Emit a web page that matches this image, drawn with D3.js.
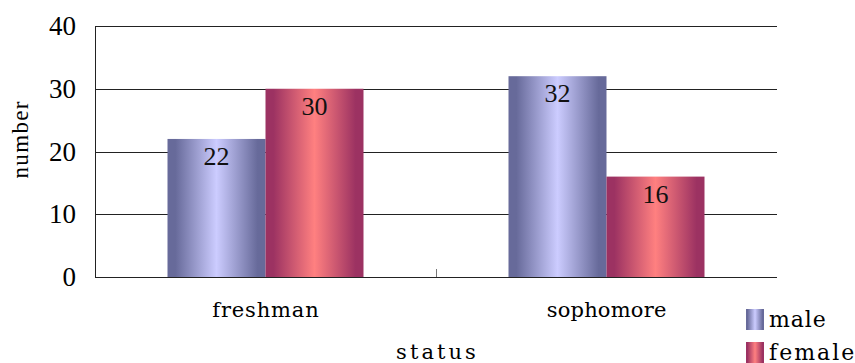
<!DOCTYPE html>
<html>
<head>
<meta charset="utf-8">
<script src="https://cdn.jsdelivr.net/npm/d3@7"></script>
<style>
  html, body { margin: 0; padding: 0; background: #fff; }
  svg { display: block; }
  .num { font-family: "Liberation Serif", "Times New Roman", serif; fill: #000; }
  .lbl { font-family: "DejaVu Serif", serif; fill: #000; }
</style>
</head>
<body>
<svg id="chart" width="855" height="363"></svg>
<script>
// Students by status and sex
const categories = ["freshman", "sophomore"];
const seriesNames = ["male", "female"];
const maleValues = [22, 32];
const femaleValues = [30, 16];
const yTicks = [0, 10, 20, 30, 40];

const svg = d3.select("#chart");
const margin = { left: 95, right: 78, top: 26, bottom: 86 };
const W = 855, H = 363;
const x0 = margin.left, x1 = W - margin.right;
const yTop = margin.top, yBot = H - margin.bottom;

const x = d3.scaleBand().domain(categories).range([x0, x1]);
const y = d3.scaleLinear().domain([0, 40]).range([yBot, yTop]);

// the pair of bars sits in the middle of each category band
const groupW = 196;
const sx = d3.scaleBand().domain(seriesNames)
  .range([(x.bandwidth() - groupW) / 2, (x.bandwidth() + groupW) / 2]);

const defs = svg.append("defs");
const palette = {
  male: { edge: "#676a9a", mid: "#ccccff" },
  female: { edge: "#9c3262", mid: "#ff8080" }
};
for (const k of seriesNames) {
  const g = defs.append("linearGradient").attr("id", "grad-" + k)
    .attr("x1", "0%").attr("x2", "100%").attr("y1", "0%").attr("y2", "0%");
  g.append("stop").attr("offset", "0%").attr("stop-color", palette[k].edge);
  g.append("stop").attr("offset", "8%").attr("stop-color", palette[k].edge);
  g.append("stop").attr("offset", "50%").attr("stop-color", palette[k].mid);
  g.append("stop").attr("offset", "92%").attr("stop-color", palette[k].edge);
  g.append("stop").attr("offset", "100%").attr("stop-color", palette[k].edge);
}

const crisp = v => Math.round(v) + 0.5;

// horizontal gridlines
svg.append("g").selectAll("line").data(yTicks.filter(d => d > 0)).join("line")
  .attr("x1", x0).attr("x2", x1)
  .attr("y1", d => crisp(y(d))).attr("y2", d => crisp(y(d)))
  .attr("stroke", "#222").attr("stroke-width", 1);

// y tick labels
svg.append("g").selectAll("text").data(yTicks).join("text")
  .attr("class", "num")
  .attr("x", 76).attr("y", d => y(d) + 9)
  .attr("text-anchor", "end")
  .style("font-size", "27px")
  .text(d => d);

// bars
const rows = categories.map((c, i) => ({ cat: c, values: [
  { key: "male", value: maleValues[i] },
  { key: "female", value: femaleValues[i] }
]}));

const groups = svg.append("g").selectAll("g").data(rows).join("g")
  .attr("transform", d => `translate(${x(d.cat)},0)`);

groups.selectAll("rect").data(d => d.values).join("rect")
  .attr("x", d => sx(d.key))
  .attr("width", sx.bandwidth())
  .attr("y", d => y(d.value))
  .attr("height", d => y(0) - y(d.value))
  .attr("fill", d => `url(#grad-${d.key})`);

groups.selectAll("text").data(d => d.values).join("text")
  .attr("class", "num")
  .attr("x", d => sx(d.key) + sx.bandwidth() / 2)
  .attr("y", d => y(d.value) + 26)
  .attr("text-anchor", "middle")
  .style("font-size", "26px")
  .style("fill", "#111")
  .text(d => d.value);

// axis lines
svg.append("line").attr("x1", crisp(x0)).attr("x2", crisp(x0))
  .attr("y1", crisp(yTop)).attr("y2", crisp(yBot))
  .attr("stroke", "#222");
svg.append("line").attr("x1", x0).attr("x2", x1)
  .attr("y1", crisp(yBot)).attr("y2", crisp(yBot))
  .attr("stroke", "#222");
svg.append("line").attr("x1", x0).attr("x2", x1)
  .attr("y1", crisp(yTop)).attr("y2", crisp(yTop))
  .attr("stroke", "#222");

// category separators
svg.append("g").selectAll("line").data(categories.slice(1)).join("line")
  .attr("x1", d => crisp(x(d))).attr("x2", d => crisp(x(d)))
  .attr("y1", yBot - 8).attr("y2", yBot)
  .attr("stroke", "#777");

// fixed-pitch spacing for the word labels
const pitch = 13.3;

// category labels
svg.append("g").selectAll("text").data(categories).join("text")
  .attr("class", "lbl")
  .attr("x", d => x(d) + x.bandwidth() / 2)
  .attr("y", 317)
  .attr("text-anchor", "middle")
  .style("font-size", "21px")
  .attr("textLength", d => d.length * pitch).attr("lengthAdjust", "spacing")
  .text(d => d);

// axis titles
svg.append("text")
  .attr("class", "lbl")
  .attr("x", (x0 + x1) / 2).attr("y", 359)
  .attr("text-anchor", "middle")
  .style("font-size", "21px")
  .attr("textLength", 6 * pitch).attr("lengthAdjust", "spacing")
  .text("status");

svg.append("text")
  .attr("class", "num")
  .attr("transform", "translate(28,140) rotate(-90)")
  .attr("text-anchor", "middle")
  .style("font-size", "23px")
  .attr("textLength", 77).attr("lengthAdjust", "spacing")
  .text("number");

// legend
const legend = svg.append("g").selectAll("g").data(seriesNames).join("g")
  .attr("transform", (d, i) => `translate(746,${309 + i * 33})`);
legend.append("rect").attr("width", 18).attr("height", 21)
  .attr("fill", d => `url(#grad-${d})`);
legend.append("text").attr("class", "lbl")
  .attr("x", 23).attr("y", 18)
  .style("font-size", "22px")
  .attr("textLength", d => d.length * 14.2).attr("lengthAdjust", "spacing")
  .text(d => d);
</script>
</body>
</html>
